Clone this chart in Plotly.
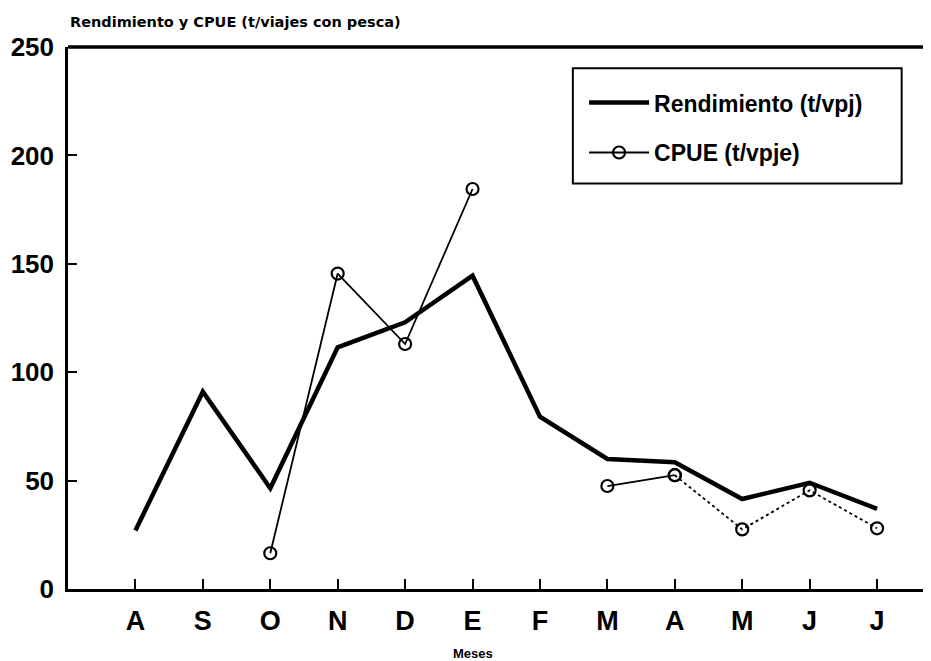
import plotly.graph_objects as go

# meses (agosto a julio)
month_labels = ["A", "S", "O", "N", "D", "E", "F", "M", "A", "M", "J", "J"]
rendimiento = [27, 91, 46.5, 111.5, 123, 144.5, 79.5, 60, 58.5, 41.5, 49, 37]
cpue = [None, None, 16.5, 145.5, 113, 184.5, None, 47.5, 52.5, 27.5, 45.5, 28]
y_ticks = [0, 50, 100, 150, 200, 250]

x_pos = list(range(len(month_labels)))
bold = dict(family="Liberation Sans, Arial, sans-serif", color="black", weight="bold")
marker_style = dict(symbol="circle-open", size=12, color="black", line=dict(width=2.2))

fig = go.Figure()
fig.add_trace(go.Scatter(
    x=x_pos, y=rendimiento,
    mode="lines",
    name="Rendimiento (t/vpj)",
    legendgroup="r",
    line=dict(color="black", width=4.5),
))
# CPUE: tramo continuo hasta abril, punteado despues
split = month_labels.index("A", 1)
fig.add_trace(go.Scatter(
    x=x_pos[:split + 1], y=cpue[:split + 1],
    mode="lines+markers",
    name="CPUE (t/vpje)",
    legendgroup="c",
    line=dict(color="black", width=1.8),
    marker=marker_style,
    connectgaps=False,
))
fig.add_trace(go.Scatter(
    x=x_pos[split:], y=cpue[split:],
    mode="lines+markers",
    showlegend=False,
    line=dict(color="black", width=1.8, dash="dot"),
    marker=marker_style,
))

# caja de la leyenda
fig.add_shape(type="rect", xref="paper", yref="paper",
              x0=0.585, x1=0.966, y0=0.748, y1=0.961,
              line=dict(color="black", width=2), fillcolor="white", layer="below")
# linea superior gruesa
fig.add_shape(type="line", xref="paper", yref="paper",
              x0=0, x1=1, y0=1, y1=1, line=dict(color="black", width=3.5))

fig.add_annotation(text="Rendimiento y CPUE (t/viajes con pesca)",
                   xref="paper", yref="paper", x=0, y=1, xanchor="left", yanchor="bottom",
                   yshift=15, showarrow=False,
                   font=dict(size=14.5, family="DejaVu Sans", color="black", weight="bold"))
fig.add_annotation(text="Meses", xref="x", yref="paper", x=5, y=0,
                   yanchor="top", yshift=-55, showarrow=False, font=dict(size=13, **bold))

# body del html tiene 8px de margen: se compensa aqui
fig.update_layout(
    width=931, height=661,
    margin=dict(l=60, r=8, t=39, b=80),
    plot_bgcolor="white", paper_bgcolor="white",
    showlegend=True,
    legend=dict(x=0.598, y=0.937, xanchor="left", yanchor="top",
                bgcolor="rgba(0,0,0,0)", borderwidth=0,
                font=dict(size=23, **bold), itemwidth=60,
                traceorder="grouped", tracegroupgap=17),
)
fig.update_xaxes(range=[-1, 11.8], tickvals=x_pos, ticktext=month_labels, automargin=False,
                 showgrid=False, zeroline=False, showline=True, linecolor="black", linewidth=2.5,
                 ticks="inside", ticklen=10, tickwidth=2, tickcolor="black",
                 tickfont=dict(size=27, **bold), ticklabelstandoff=6)
fig.update_yaxes(range=[0, 250], tickvals=y_ticks, automargin=False,
                 showgrid=False, zeroline=False, showline=True, linecolor="black", linewidth=2.5,
                 ticks="inside", ticklen=9, tickwidth=2, tickcolor="black",
                 tickfont=dict(size=26, **bold), ticklabelstandoff=6)

fig.write_html("out.html")
